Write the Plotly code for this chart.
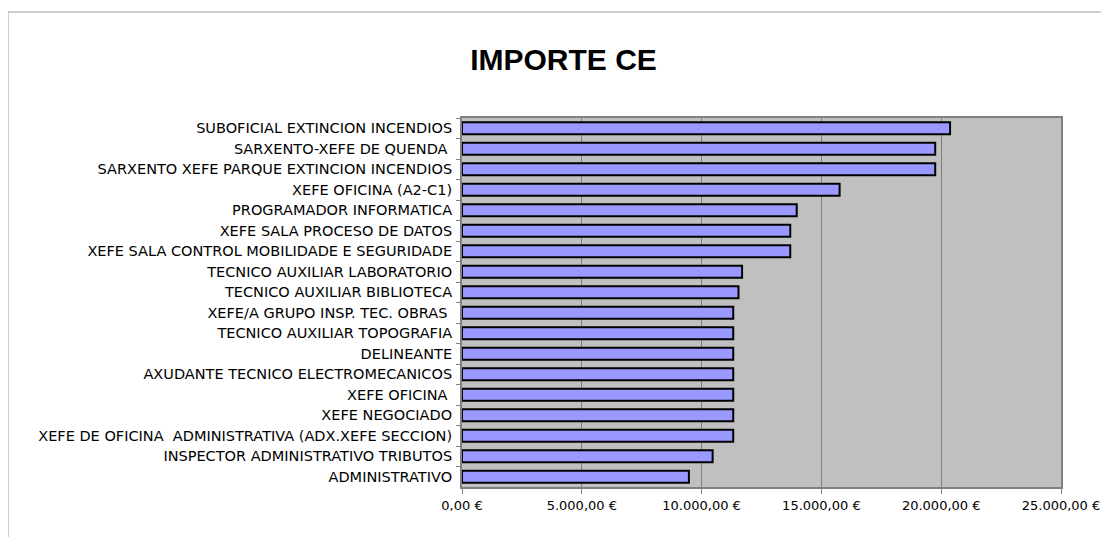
import plotly.graph_objects as go

# categories top -> bottom
puestos = [
    "SUBOFICIAL EXTINCION INCENDIOS",
    "SARXENTO-XEFE DE QUENDA ",
    "SARXENTO XEFE PARQUE EXTINCION INCENDIOS",
    "XEFE OFICINA (A2-C1)",
    "PROGRAMADOR INFORMATICA",
    "XEFE SALA PROCESO DE DATOS",
    "XEFE SALA CONTROL MOBILIDADE E SEGURIDADE",
    "TECNICO AUXILIAR LABORATORIO",
    "TECNICO AUXILIAR BIBLIOTECA",
    "XEFE/A GRUPO INSP. TEC. OBRAS ",
    "TECNICO AUXILIAR TOPOGRAFIA",
    "DELINEANTE",
    "AXUDANTE TECNICO ELECTROMECANICOS",
    "XEFE OFICINA ",
    "XEFE NEGOCIADO",
    "XEFE DE OFICINA  ADMINISTRATIVA (ADX.XEFE SECCION)",
    "INSPECTOR ADMINISTRATIVO TRIBUTOS",
    "ADMINISTRATIVO",
]
importe_ce = [
    20370, 19750, 19750, 15760, 13970, 13700, 13700, 11690, 11540,
    11320, 11320, 11320, 11320, 11320, 11320, 11320, 10460, 9470,
]

tick_vals = [0, 5000, 10000, 15000, 20000, 25000]
tick_text = ["0,00 €", "5.000,00 €", "10.000,00 €", "15.000,00 €",
             "20.000,00 €", "25.000,00 €"]

FONT = "DejaVu Sans"

# page body has an 8px margin, so the figure is sized to fit inside it
W, H = 1093, 529
L, R, T, B = 454, 40, 110, 50

fig = go.Figure(go.Bar(
    x=importe_ce,
    y=puestos,
    orientation="h",
    marker=dict(color="#9999ff", line=dict(color="#000000", width=2)),
    width=0.58,
    hovertemplate="%{y}: %{x:,.2f} €<extra></extra>",
))

fig.update_layout(
    width=W,
    height=H,
    paper_bgcolor="white",
    plot_bgcolor="#c0c0c0",
    margin=dict(l=L, r=R, t=T, b=B),
    showlegend=False,
    font=dict(family=FONT, size=14, color="black"),
    title=dict(
        text="<b>IMPORTE CE</b>",
        x=555.5 / W, xref="container", xanchor="center",
        y=1 - 51 / H, yref="container", yanchor="middle",
        font=dict(family="Liberation Sans", size=30, color="black"),
    ),
    xaxis=dict(
        range=[0, 25000],
        tickvals=tick_vals,
        ticktext=tick_text,
        showgrid=True,
        gridcolor="#808080",
        gridwidth=1,
        zeroline=False,
        showline=True,
        linecolor="#808080",
        linewidth=2,
        mirror=True,
        ticks="outside",
        ticklen=5,
        tickcolor="#808080",
        tickfont=dict(family=FONT, size=13),
        automargin=False,
        fixedrange=True,
    ),
    yaxis=dict(
        autorange="reversed",
        showline=True,
        linecolor="#808080",
        linewidth=2,
        mirror=True,
        ticks="outside",
        tickson="boundaries",
        ticklen=4,
        tickcolor="#808080",
        tickfont=dict(family=FONT, size=14.5),
        ticklabelstandoff=5,
        automargin=False,
        fixedrange=True,
    ),
)

# outer chart frame
pw, ph = W - L - R, H - T - B
fig.add_shape(
    type="rect", xref="paper", yref="paper",
    x0=-L / pw, x1=(W - L + 20) / pw, y0=-(B + 20) / ph, y1=(H - B - 4) / ph,
    line=dict(color="#a0a0a0", width=1), fillcolor="rgba(0,0,0,0)",
    layer="below",
)

fig.write_html("out.html")
